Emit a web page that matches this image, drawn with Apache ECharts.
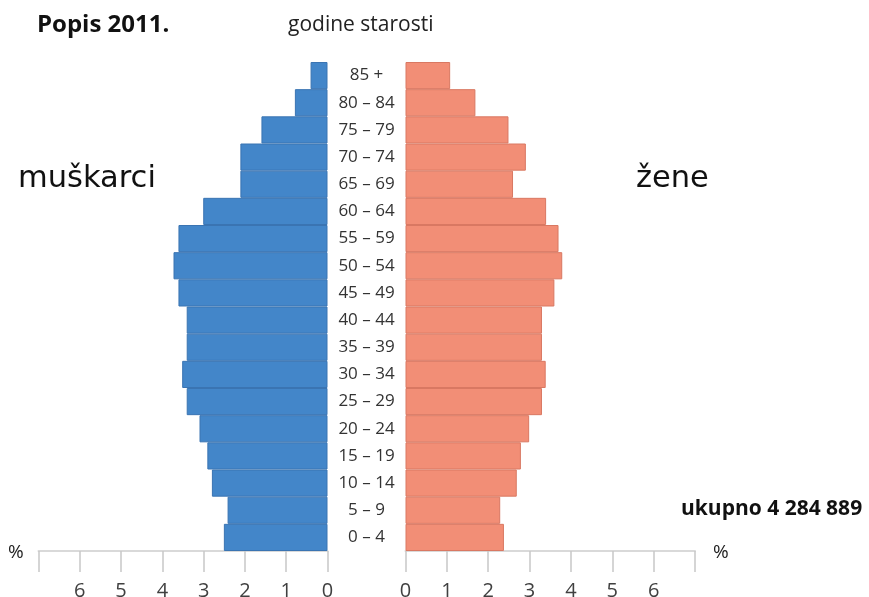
<!DOCTYPE html>
<html>
<head>
<meta charset="utf-8">
<script src="https://cdn.jsdelivr.net/npm/echarts@6/dist/echarts.min.js"></script>
<style>html,body{margin:0;padding:0;background:#fff}#c{width:869px;height:597px}</style>
</head>
<body>
<div id="c"></div>
<script>
const ageGroups = ['0 – 4','5 – 9','10 – 14','15 – 19','20 – 24','25 – 29','30 – 34','35 – 39','40 – 44','45 – 49','50 – 54','55 – 59','60 – 64','65 – 69','70 – 74','75 – 79','80 – 84','85 +'];
const men   = [2.51,2.42,2.80,2.91,3.10,3.41,3.52,3.41,3.41,3.61,3.73,3.61,3.01,2.11,2.11,1.60,0.79,0.41];
const women = [2.38,2.29,2.69,2.79,2.99,3.30,3.39,3.30,3.30,3.60,3.79,3.70,3.40,2.60,2.91,2.49,1.69,1.08];
const labelValues = [0,1,2,3,4,5,6];

const FONT = '"Open Sans", sans-serif';
const chart = echarts.init(document.getElementById('c'), null, {renderer:'canvas'});
const valueAxis = (gridIndex, inverse) => ({
  type:'value', gridIndex, min:0, max:7, interval:1, inverse,
  position:'bottom',
  axisLine:{show:true, lineStyle:{color:'#d9d9d9', width:2}},
  axisTick:{show:true, inside:false, length:21, lineStyle:{color:'#c8c8c8', width:1.5}},
  axisLabel:{customValues:labelValues, margin:30, color:'#404040', fontSize:20, fontFamily:FONT},
  splitLine:{show:false}
});
const txt = (text, x, y, font, fill) => ({type:'text', x, y, style:{text, font, fill, align:'left', verticalAlign:'middle'}});
chart.setOption({
  animation:false,
  graphic:[
    txt('Popis 2011.', 37, 25, 'bold 24px "Open Sans"', '#111'),
    txt('godine starosti', 288, 25, '21px "Open Sans"', '#222'),
    txt('muškarci', 18, 179, '30.5px "DejaVu Sans"', '#111'),
    txt('žene', 636, 179, '30.5px "DejaVu Sans"', '#111'),
    txt('ukupno 4 284 889', 681, 509, 'bold 21px "Open Sans"', '#111'),
    txt('%', 8, 553, '19px "Open Sans"', '#222'),
    txt('%', 713, 553, '19px "Open Sans"', '#222')
  ],
  grid:[
    {left:38.5, width:289, top:62, bottom:46, containLabel:false, outerBoundsMode:'none'},
    {left:405.5, width:289.5, top:62, bottom:46, containLabel:false, outerBoundsMode:'none'}
  ],
  xAxis:[valueAxis(0,true), valueAxis(1,false)],
  yAxis:[
    {type:'category', gridIndex:0, data:ageGroups, position:'right',
     axisLine:{show:false}, axisTick:{show:false},
     axisLabel:{margin:39, align:'center', color:'#333', fontSize:17, fontFamily:FONT}},
    {type:'category', gridIndex:1, data:ageGroups,
     axisLine:{show:false}, axisTick:{show:false}, axisLabel:{show:false}}
  ],
  series:[
    {type:'bar', name:'muškarci', xAxisIndex:0, yAxisIndex:0, data:men, barWidth:'100%',
     itemStyle:{color:'#4386c9', borderColor:'#3a74b2', borderWidth:1}},
    {type:'bar', name:'žene', xAxisIndex:1, yAxisIndex:1, data:women, barWidth:'100%',
     itemStyle:{color:'#f28e76', borderColor:'#d97862', borderWidth:1}}
  ]
});
</script>
</body>
</html>
